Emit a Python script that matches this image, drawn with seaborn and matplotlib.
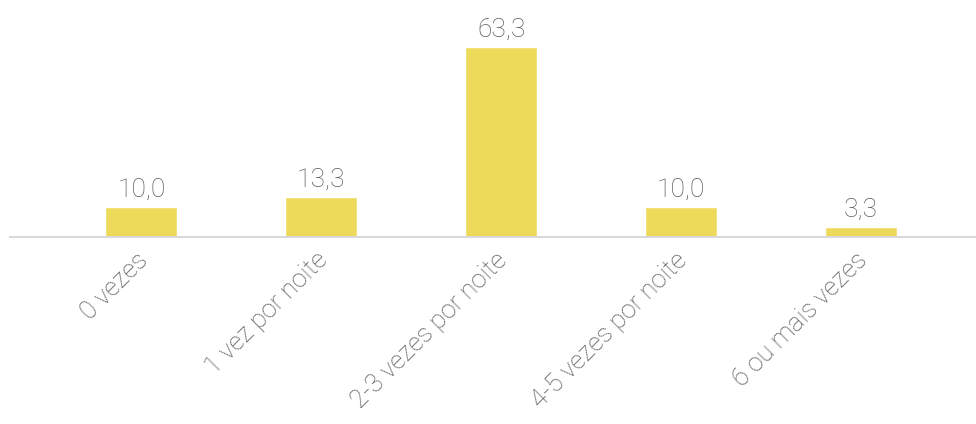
import seaborn as sns
import matplotlib.pyplot as plt
import matplotlib.transforms as mtransforms
import pandas as pd

categorias = ["0 vezes", "1 vez por noite", "2-3 vezes por noite",
              "4-5 vezes por noite", "6 ou mais vezes"]
valores = [10.0, 13.3, 63.3, 10.0, 3.3]
rotulos = ["10,0", "13,3", "63,3", "10,0", "3,3"]

df = pd.DataFrame({"categoria": categorias, "valor": valores})

sns.set_style("white")
plt.rcParams['font.family'] = ['Roboto', 'DejaVu Sans']

fig = plt.figure(figsize=(9.76, 4.24), dpi=100)
ax = fig.add_axes([10 / 976, 1 - 237 / 424, 966 / 976, 237 / 424])

sns.barplot(data=df, x="categoria", y="valor", color="#EEDA5A",
            saturation=1, width=0.4, ax=ax)

for i, (v, r) in enumerate(zip(valores, rotulos)):
    ax.text(i, v + 1.8, r, ha="center", va="bottom", fontsize=19,
            color="#595959", fontweight="light")

ax.set_xlim(-0.73, 4.64)
ax.set_ylim(0, 79)
ax.set_xlabel("")
ax.set_ylabel("")
ax.set_yticks([])
for s in ["top", "right", "left"]:
    ax.spines[s].set_visible(False)
ax.spines["bottom"].set_color("#D9D9D9")
ax.spines["bottom"].set_linewidth(1.5)
ax.tick_params(axis="x", length=0, pad=8)
desloc = mtransforms.ScaledTranslation(-6 / 100, 0, fig.dpi_scale_trans)
for lbl in ax.get_xticklabels():
    lbl.set_rotation(45)
    lbl.set_ha("right")
    lbl.set_va("top")
    lbl.set_rotation_mode("anchor")
    lbl.set_fontsize(18.5)
    lbl.set_color("#595959")
    lbl.set_fontweight("light")
    lbl.set_transform(lbl.get_transform() + desloc)

fig.savefig("out.png", dpi=100)
